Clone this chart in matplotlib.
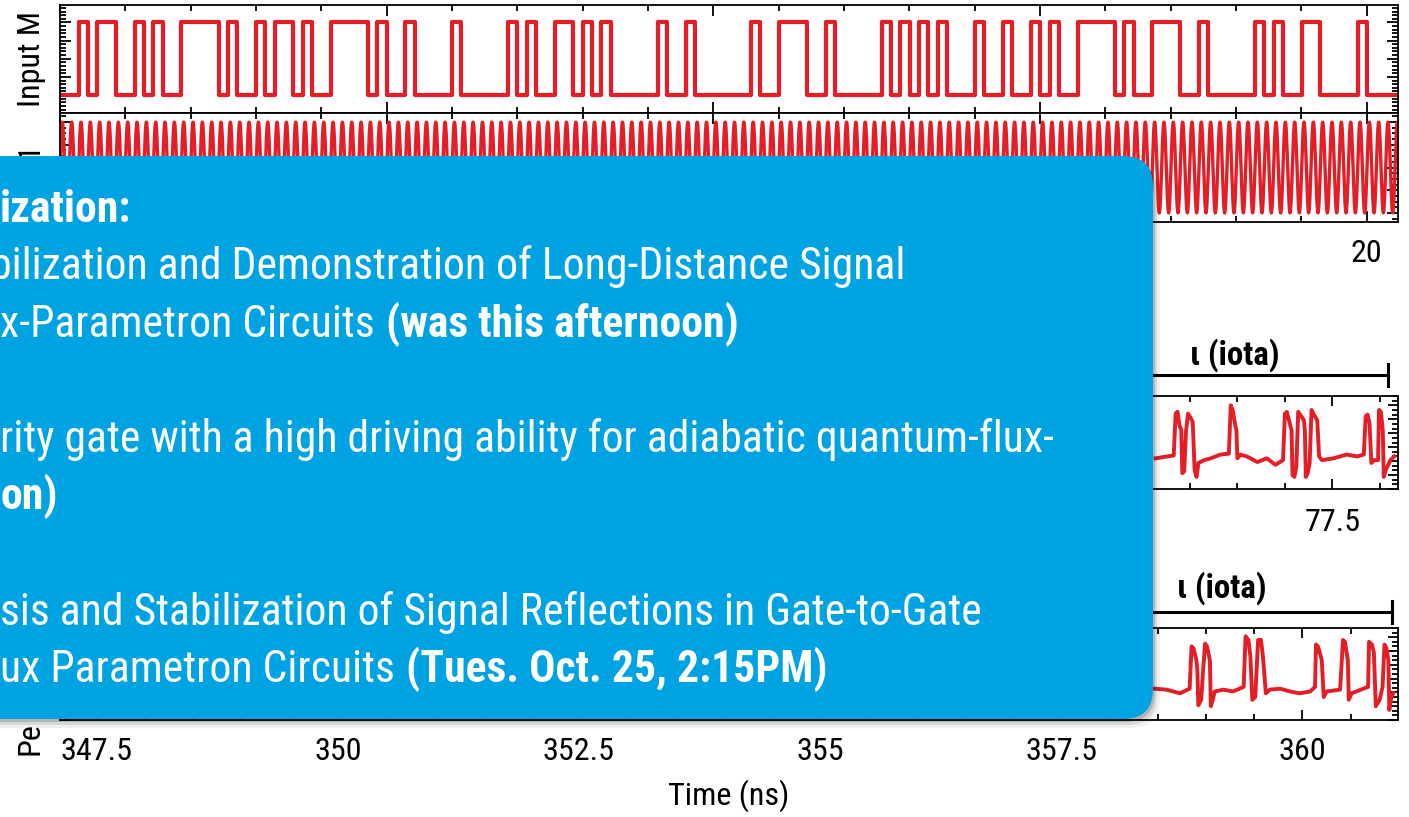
import numpy as np
import matplotlib.pyplot as plt
from matplotlib.patches import FancyBboxPatch
from matplotlib.ticker import MultipleLocator, AutoMinorLocator

FONT = ['Liberation Sans Narrow', 'Nimbus Sans Narrow', 'Arial Narrow', 'Roboto Condensed',
        'Archivo Narrow', 'PT Sans Narrow', 'DejaVu Sans']
plt.rcParams['font.family'] = FONT

RED = '#E41E26'
BLUE = '#00A3E1'

# ---- top two traces, time axis 0 .. 20.5 ----
bit_period = 0.1429          # one bit = one excitation cycle
input_m_bits = ("00"
                "1011001010" "0111101001" "0110100111" "1010010000"
                "1000001010" "0110101000" "0010010000" "0010011100"
                "1000001010" "1010001001" "0010100111" "1010011100"
                "1000001010" "0110000100" "00")
clock_period = 0.1429
clock_amp = 1.0
top_ticks = [0, 5, 10, 15, 20]
top_labels = ['', '', '', '', '20']

# ---- output traces around the iota symbol (visible part only) ----
mid_t = [75.64, 75.76, 75.83, 75.85, 75.87, 75.89, 75.91, 75.92, 75.94, 75.96,
         75.98, 76.00, 76.03, 76.05, 76.07, 76.09, 76.15, 76.22, 76.32, 76.41,
         76.43, 76.45, 76.48, 76.49, 76.50, 76.53, 76.60, 76.71, 76.81, 76.90,
         76.98, 77.00, 77.02, 77.05, 77.07, 77.08, 77.10, 77.12, 77.14, 77.16,
         77.20, 77.21, 77.22, 77.24, 77.26, 77.28, 77.30, 77.34, 77.36, 77.39,
         77.51, 77.65, 77.76, 77.83, 77.85, 77.87, 77.89, 77.91, 77.94, 77.98,
         77.99, 78.01, 78.03, 78.04, 78.06, 78.11, 78.15]
mid_v = [0.33, 0.35, 0.36, 0.81, 0.83, 0.69, 0.63, 0.17, 0.19, 0.63,
         0.81, 0.78, 0.72, 0.20, 0.13, 0.28, 0.31, 0.33, 0.37, 0.38,
         0.90, 0.85, 0.67, 0.63, 0.33, 0.37, 0.35, 0.29, 0.33, 0.26,
         0.31, 0.81, 0.83, 0.71, 0.63, 0.15, 0.13, 0.24, 0.83, 0.80,
         0.74, 0.63, 0.13, 0.17, 0.28, 0.85, 0.81, 0.74, 0.35, 0.31,
         0.33, 0.37, 0.35, 0.37, 0.78, 0.80, 0.71, 0.28, 0.31, 0.31,
         0.85, 0.83, 0.63, 0.13, 0.20, 0.31, 0.35]
mid_ticks = [65, 67.5, 70, 72.5, 75, 77.5]
mid_labels = ['', '', '', '', '', '77.5']

low_t = [358.47, 358.59, 358.73, 358.83, 358.85, 358.87, 358.90, 358.91, 358.92, 358.95,
         358.97, 358.99, 359.01, 359.04, 359.05, 359.07, 359.09, 359.18, 359.28, 359.39,
         359.41, 359.44, 359.46, 359.48, 359.51, 359.54, 359.57, 359.59, 359.62, 359.66,
         359.77, 359.87, 359.97, 360.08, 360.13, 360.14, 360.16, 360.19, 360.20, 360.22,
         360.25, 360.39, 360.42, 360.44, 360.47, 360.48, 360.51, 360.63, 360.68, 360.69,
         360.72, 360.74, 360.76, 360.80, 360.83, 360.85, 360.87, 360.89, 360.90, 360.92,
         360.94]
low_v = [0.34, 0.33, 0.29, 0.34, 0.80, 0.78, 0.65, 0.54, 0.16, 0.22,
         0.54, 0.83, 0.80, 0.65, 0.15, 0.22, 0.31, 0.33, 0.31, 0.36,
         0.91, 0.87, 0.69, 0.22, 0.25, 0.87, 0.87, 0.69, 0.29, 0.33,
         0.34, 0.31, 0.29, 0.31, 0.36, 0.82, 0.80, 0.69, 0.65, 0.25,
         0.31, 0.33, 0.87, 0.85, 0.65, 0.22, 0.29, 0.34, 0.36, 0.85,
         0.82, 0.73, 0.15, 0.22, 0.36, 0.82, 0.78, 0.65, 0.11, 0.25,
         0.29]
low_ticks = [347.5, 350, 352.5, 355, 357.5, 360]

iota_mid = (74.85, 78.09)
iota_low = (357.40, 360.93)

# ---- text of the overlay box (its left part is off the slide) ----
box_lines = [
    ("", "ization:"),
    ("bilization and Demonstration of Long-Distance Signal", ""),
    ("x-Parametron Circuits", "(was this afternoon)"),
    ("rity gate with a high driving ability for adiabatic quantum-flux-", ""),
    ("", "on)"),
    ("sis and Stabilization of Signal Reflections in Gate-to-Gate", ""),
    ("ux Parametron Circuits", "(Tues. Oct. 25, 2:15PM)"),
]

W, H = 1409, 817
fig = plt.figure(figsize=(W / 100, H / 100), dpi=100)
renderer = fig.canvas.get_renderer()


def text_width(s, size, weight='normal'):
    t = fig.text(0, 0, s, fontsize=size, fontweight=weight)
    w = t.get_window_extent(renderer).width
    t.remove()
    return w


# fit sizes to the widths seen on the slide
fs_box = 30 * 918 / text_width(box_lines[1][0], 30)
fs_tick = 25 * 72 / text_width('347.5', 25)
fs_iota = 25 * 89 / text_width('\u03b9 (iota)', 25, 'bold')


def px_axes(left, top, right, bottom):
    return fig.add_axes([left / W, 1 - bottom / H, (right - left) / W, (bottom - top) / H])


def style(ax, xmaj, xmin, ymaj, ymin, maj_len=8, min_len=4.5):
    ax.xaxis.set_major_locator(MultipleLocator(xmaj))
    ax.xaxis.set_minor_locator(MultipleLocator(xmin))
    ax.yaxis.set_major_locator(MultipleLocator(ymaj))
    ax.yaxis.set_minor_locator(AutoMinorLocator(ymin))
    ax.tick_params(which='both', direction='in', top=True, right=True, width=1.3,
                   labelsize=fs_tick, pad=12, labelleft=False)
    ax.tick_params(which='major', length=maj_len)
    ax.tick_params(which='minor', length=min_len)
    for s in ax.spines.values():
        s.set_linewidth(1.3)


# panel 1: Input M
ax1 = px_axes(60, 5, 1398, 113)
bits = np.array([int(b) for b in input_m_bits], dtype=float)
t_edges = np.arange(len(bits) + 1) * bit_period
ax1.step(t_edges, np.append(bits, bits[-1]), where='post', color=RED, lw=3.0)
ax1.set_xlim(0, 20.48)
ax1.set_ylim(-0.248, 1.241)
style(ax1, 5, 1, 0.25, 5)
ax1.set_xticks(top_ticks)
ax1.tick_params(labelbottom=False)
ax1.set_ylabel('Input M', fontsize=fs_tick, labelpad=10)

# panel 2: excitation clock
ax2 = px_axes(60, 113, 1398, 222)
tt = np.linspace(0, 20.48, 8000)
ax2.plot(tt, clock_amp * np.sin(2 * np.pi * tt / clock_period), color=RED, lw=2.4)
ax2.set_xlim(0, 20.48)
ax2.set_ylim(-1.2, 1.2)
style(ax2, 5, 1, 0.5, 4)
ax2.set_xticks(top_ticks)
ax2.set_xticklabels(top_labels)
ax2.text(-0.0224, 0.725, '1', transform=ax2.transAxes, rotation=90,
         ha='center', va='top', fontsize=fs_tick)

# panel 3
ax3 = px_axes(60, 396, 1398, 489)
ax3.plot(mid_t, mid_v, color=RED, lw=2.8)
ax3.set_xlim(64.11, 78.19)
ax3.set_ylim(0, 1)
style(ax3, 2.5, 0.5, 0.15, 3, maj_len=7, min_len=4)
ax3.set_xticks(mid_ticks)
ax3.set_xticklabels(mid_labels)
ax3.tick_params(axis='x', pad=14)

# panel 4
ax4 = px_axes(60, 628, 1398, 720)
ax4.plot(low_t, low_v, color=RED, lw=2.8)
ax4.set_xlim(347.12, 360.99)
ax4.set_ylim(0, 1)
style(ax4, 2.5, 0.5, 0.15, 3, maj_len=7, min_len=4)
ax4.set_xticks(low_ticks)
ax4.set_xticklabels([f'{v:g}' for v in low_ticks])
ax4.set_xlabel('Time (ns)', fontsize=fs_tick, labelpad=10)
ax4.text(-0.0224, -0.38, 'Pe', transform=ax4.transAxes, rotation=90,
         ha='center', va='bottom', fontsize=fs_tick)

# iota brackets above panels 3 and 4
for ax, span, y_line, y_txt in [(ax3, iota_mid, 1.226, 1.44), (ax4, iota_low, 1.177, 1.435)]:
    tr = ax.get_xaxis_transform()
    ax.plot(span, [y_line, y_line], color='black', lw=2.2, transform=tr, clip_on=False)
    ax.plot([span[1], span[1]], [y_line - 0.12, y_line + 0.12], color='black', lw=2.2,
            transform=tr, clip_on=False)
    ax.text(sum(span) / 2, y_txt, '\u03b9 (iota)', transform=tr, ha='center', va='center',
            fontsize=fs_iota, fontweight='bold')

# overlay box (pixel coordinates)
ov = fig.add_axes([0, 0, 1, 1], zorder=10)
ov.set_xlim(0, W)
ov.set_ylim(H, 0)
ov.axis('off')
box_x, box_y, box_w, box_h = -60, 156, 1213, 563
for dx, dy, a in [(2, 3, 0.16), (4, 6, 0.10), (7, 9, 0.06)]:
    ov.add_patch(FancyBboxPatch((box_x + dx, box_y + dy), box_w, box_h,
                                boxstyle='round,pad=0,rounding_size=30',
                                fc='black', ec='none', alpha=a))
ov.add_patch(FancyBboxPatch((box_x, box_y), box_w, box_h,
                            boxstyle='round,pad=0,rounding_size=30', fc=BLUE, ec='none'))

baselines = [222, 279.5, 337, 452, 509.5, 624.5, 682]
starts = [0, -10, 0, 0, 0, 0, 0]
for (reg, bold), yb, x0 in zip(box_lines, baselines, starts):
    if reg:
        t = ov.text(x0, yb, reg, color='white', fontsize=fs_box, va='baseline', ha='left')
        if bold:
            ov.annotate(bold, xy=(1, yb), xycoords=(t, 'data'), xytext=(0.25 * fs_box, 0),
                        textcoords='offset points', color='white', fontsize=fs_box,
                        fontweight='bold', va='baseline', ha='left')
    else:
        ov.text(x0, yb, bold, color='white', fontsize=fs_box, fontweight='bold',
                va='baseline', ha='left')

fig.savefig('out.png', dpi=100)
